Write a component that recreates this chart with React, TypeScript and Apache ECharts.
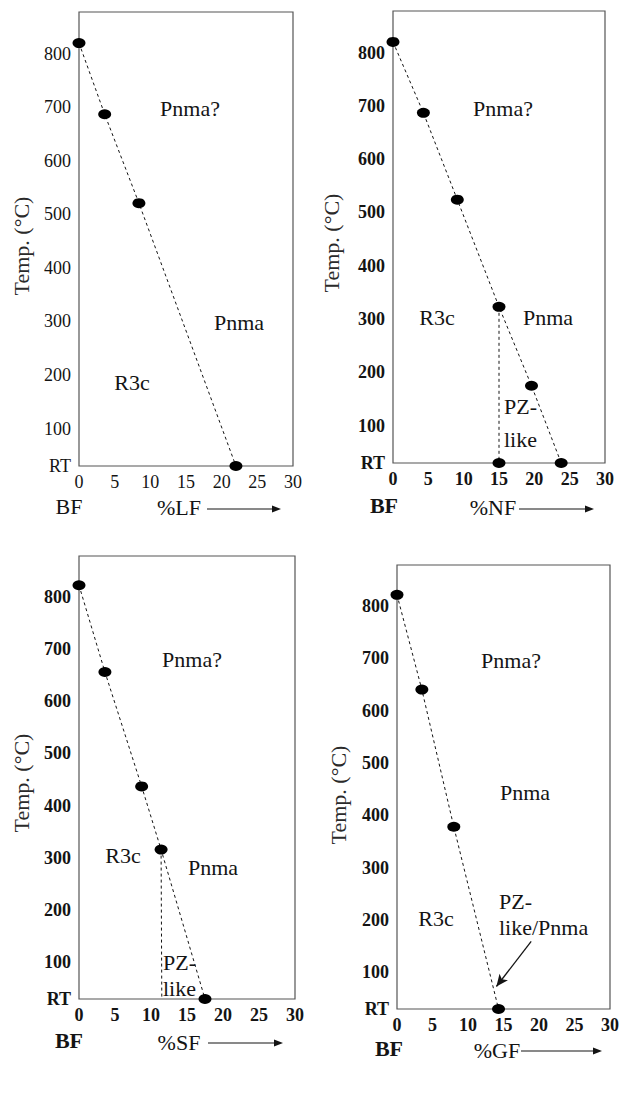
import React, { useEffect, useRef } from "react";
import * as echarts from "echarts";

const RT = 30;
const T_MAX = 878;
const yTickValues = [RT, 100, 200, 300, 400, 500, 600, 700, 800];
const xTickValues = [0, 5, 10, 15, 20, 25, 30];

const lfBoundary = [[0, 820], [3.6, 687], [8.4, 521], [22, RT]];
const lfPoints = [[0, 820], [3.6, 687], [8.4, 521], [22, RT]];

const nfBoundary = [[0, 820], [4.3, 687], [9.1, 524], [15, 323], [19.6, 175], [23.8, RT]];
const nfPzLine = [[15, 323], [15, RT]];
const nfPoints = [[0, 820], [4.3, 687], [9.1, 524], [15, 323], [19.6, 175], [15, RT], [23.8, RT]];

const sfBoundary = [[0, 822], [3.6, 656], [8.7, 437], [11.4, 316], [17.5, RT]];
const sfPzLine = [[11.4, 316], [11.5, RT]];
const sfPoints = [[0, 822], [3.6, 656], [8.7, 437], [11.4, 316], [17.5, RT]];

const gfBoundary = [[0, 821], [3.5, 640], [8.0, 378], [14.3, RT]];
const gfPoints = [[0, 821], [3.5, 640], [8.0, 378], [14.3, RT]];
const gfArrow = [[18.9, 159], [14.0, 73]];

const FONT = "Liberation Serif, serif";
const INK = "#141414";

type Panel = {
  grid: { left: number; top: number; width: number; height: number };
  bold: boolean;
  boundary: number[][];
  pzLine?: number[][];
  points: number[][];
  arrow?: number[][];
};

const panels: Panel[] = [
  { grid: { left: 79, top: 12, width: 214, height: 454 }, bold: false, boundary: lfBoundary, points: lfPoints },
  { grid: { left: 393, top: 11, width: 212, height: 452 }, bold: true, boundary: nfBoundary, pzLine: nfPzLine, points: nfPoints },
  { grid: { left: 79, top: 556, width: 216, height: 443 }, bold: true, boundary: sfBoundary, pzLine: sfPzLine, points: sfPoints },
  { grid: { left: 397, top: 565, width: 217, height: 444 }, bold: true, boundary: gfBoundary, points: gfPoints, arrow: gfArrow },
];

function txt(text: string, x: number, y: number, size: number, opts: any = {}) {
  return {
    type: "text",
    x,
    y,
    rotation: opts.rotation || 0,
    z: 10,
    style: {
      text,
      fill: opts.fill || INK,
      fontFamily: FONT,
      fontSize: size,
      fontWeight: opts.weight || "normal",
      align: opts.align || "center",
      verticalAlign: "middle",
    },
  };
}

function bottomArrow(x1: number, x2: number, y: number) {
  return [
    { type: "line", shape: { x1, y1: y, x2: x2 - 6, y2: y }, style: { stroke: INK, lineWidth: 1.2 } },
    { type: "polygon", shape: { points: [[x2, y], [x2 - 9, y - 3.5], [x2 - 9, y + 3.5]] }, style: { fill: INK } },
  ];
}

export default function App() {
  const ref = useRef<HTMLDivElement>(null);

  useEffect(() => {
    if (!ref.current) return;
    const chart = echarts.init(ref.current, undefined, { renderer: "svg" });

    const grid = panels.map((p) => ({
      ...p.grid,
      show: true,
      borderColor: "#555",
      borderWidth: 1.2,
      backgroundColor: "transparent",
    }));

    const xAxis = panels.map((p, i) => ({
      type: "value",
      gridIndex: i,
      min: 0,
      max: 30,
      interval: 5,
      axisLine: { show: false },
      axisTick: { show: false },
      splitLine: { show: false },
      axisLabel: {
        customValues: xTickValues,
        margin: 7,
        color: INK,
        fontFamily: FONT,
        fontSize: 18,
        fontWeight: p.bold ? "bold" : "normal",
      },
    }));

    const yAxis = panels.map((p, i) => ({
      type: "value",
      gridIndex: i,
      min: RT,
      max: T_MAX,
      axisLine: { show: false },
      axisTick: { show: false },
      splitLine: { show: false },
      axisLabel: {
        customValues: yTickValues,
        margin: 8,
        color: INK,
        fontFamily: FONT,
        fontSize: 18,
        fontWeight: p.bold ? "bold" : "normal",
        formatter: (v: number) => (v === RT ? "RT" : String(v)),
      },
    }));

    const series: any[] = [];
    panels.forEach((p, i) => {
      series.push({
        type: "line",
        xAxisIndex: i,
        yAxisIndex: i,
        data: p.boundary,
        symbol: "none",
        silent: true,
        lineStyle: { color: INK, width: 1, type: [3, 3] },
        z: 2,
      });
      if (p.pzLine) {
        series.push({
          type: "line",
          xAxisIndex: i,
          yAxisIndex: i,
          data: p.pzLine,
          symbol: "none",
          silent: true,
          lineStyle: { color: INK, width: 1, type: [3, 3] },
          z: 2,
        });
      }
      const sc: any = {
        type: "scatter",
        xAxisIndex: i,
        yAxisIndex: i,
        data: p.points,
        symbol: "circle",
        symbolSize: [13, 10],
        itemStyle: { color: "#000", opacity: 1 },
        silent: true,
        z: 5,
      };
      if (p.arrow) {
        sc.markLine = {
          silent: true,
          symbol: ["none", "arrow"],
          symbolSize: [8, 12],
          label: { show: false },
          lineStyle: { color: INK, width: 1.3, type: "solid" },
          data: [[{ coord: p.arrow[0] }, { coord: p.arrow[1] }]],
        };
      }
      series.push(sc);
    });

    const graphic: any[] = [
      // y-axis titles
      txt("Temp. (°C)", 21, 246, 22, { rotation: Math.PI / 2, fill: "#2a2a2a" }),
      txt("Temp. (°C)", 331, 243, 22, { rotation: Math.PI / 2, fill: "#2a2a2a" }),
      txt("Temp. (°C)", 21, 783, 22, { rotation: Math.PI / 2, fill: "#2a2a2a" }),
      txt("Temp. (°C)", 338, 795, 22, { rotation: Math.PI / 2, fill: "#2a2a2a" }),
      // panel 1
      txt("Pnma?", 190, 108, 22),
      txt("Pnma", 239, 322, 22),
      txt("R3c", 132, 382, 22),
      txt("BF", 69, 506, 22),
      txt("%LF", 179, 507, 22),
      ...bottomArrow(207, 281, 509),
      // panel 2
      txt("Pnma?", 503, 108, 22),
      txt("R3c", 437, 317, 22),
      txt("Pnma", 548, 317, 22),
      txt("PZ-", 504, 406, 22, { align: "left" }),
      txt("like", 504, 439, 22, { align: "left" }),
      txt("BF", 384, 505, 22, { weight: "bold" }),
      txt("%NF", 493, 507, 22),
      ...bottomArrow(519, 594, 509),
      // panel 3
      txt("Pnma?", 192, 659, 22),
      txt("R3c", 123, 855, 22),
      txt("Pnma", 213, 867, 22),
      txt("PZ-", 163, 962, 22, { align: "left" }),
      txt("like", 163, 988, 22, { align: "left" }),
      txt("BF", 69, 1040, 22, { weight: "bold" }),
      txt("%SF", 179, 1042, 22),
      ...bottomArrow(208, 283, 1043),
      // panel 4
      txt("Pnma?", 511, 660, 22),
      txt("Pnma", 525, 792, 22),
      txt("R3c", 436, 918, 22),
      txt("PZ-", 499, 901, 22, { align: "left" }),
      txt("like/Pnma", 499, 927, 22, { align: "left" }),
      txt("BF", 389, 1048, 22, { weight: "bold" }),
      txt("%GF", 497, 1050, 22),
      ...bottomArrow(521, 602, 1051),
    ];

    chart.setOption({
      animation: false,
      backgroundColor: "#fff",
      grid,
      xAxis,
      yAxis,
      series,
      graphic,
    });

    return () => chart.dispose();
  }, []);

  return (
    <div
      ref={ref}
      style={{ position: "absolute", left: 0, top: 0, width: 622, height: 1100, background: "#fff" }}
    />
  );
}
